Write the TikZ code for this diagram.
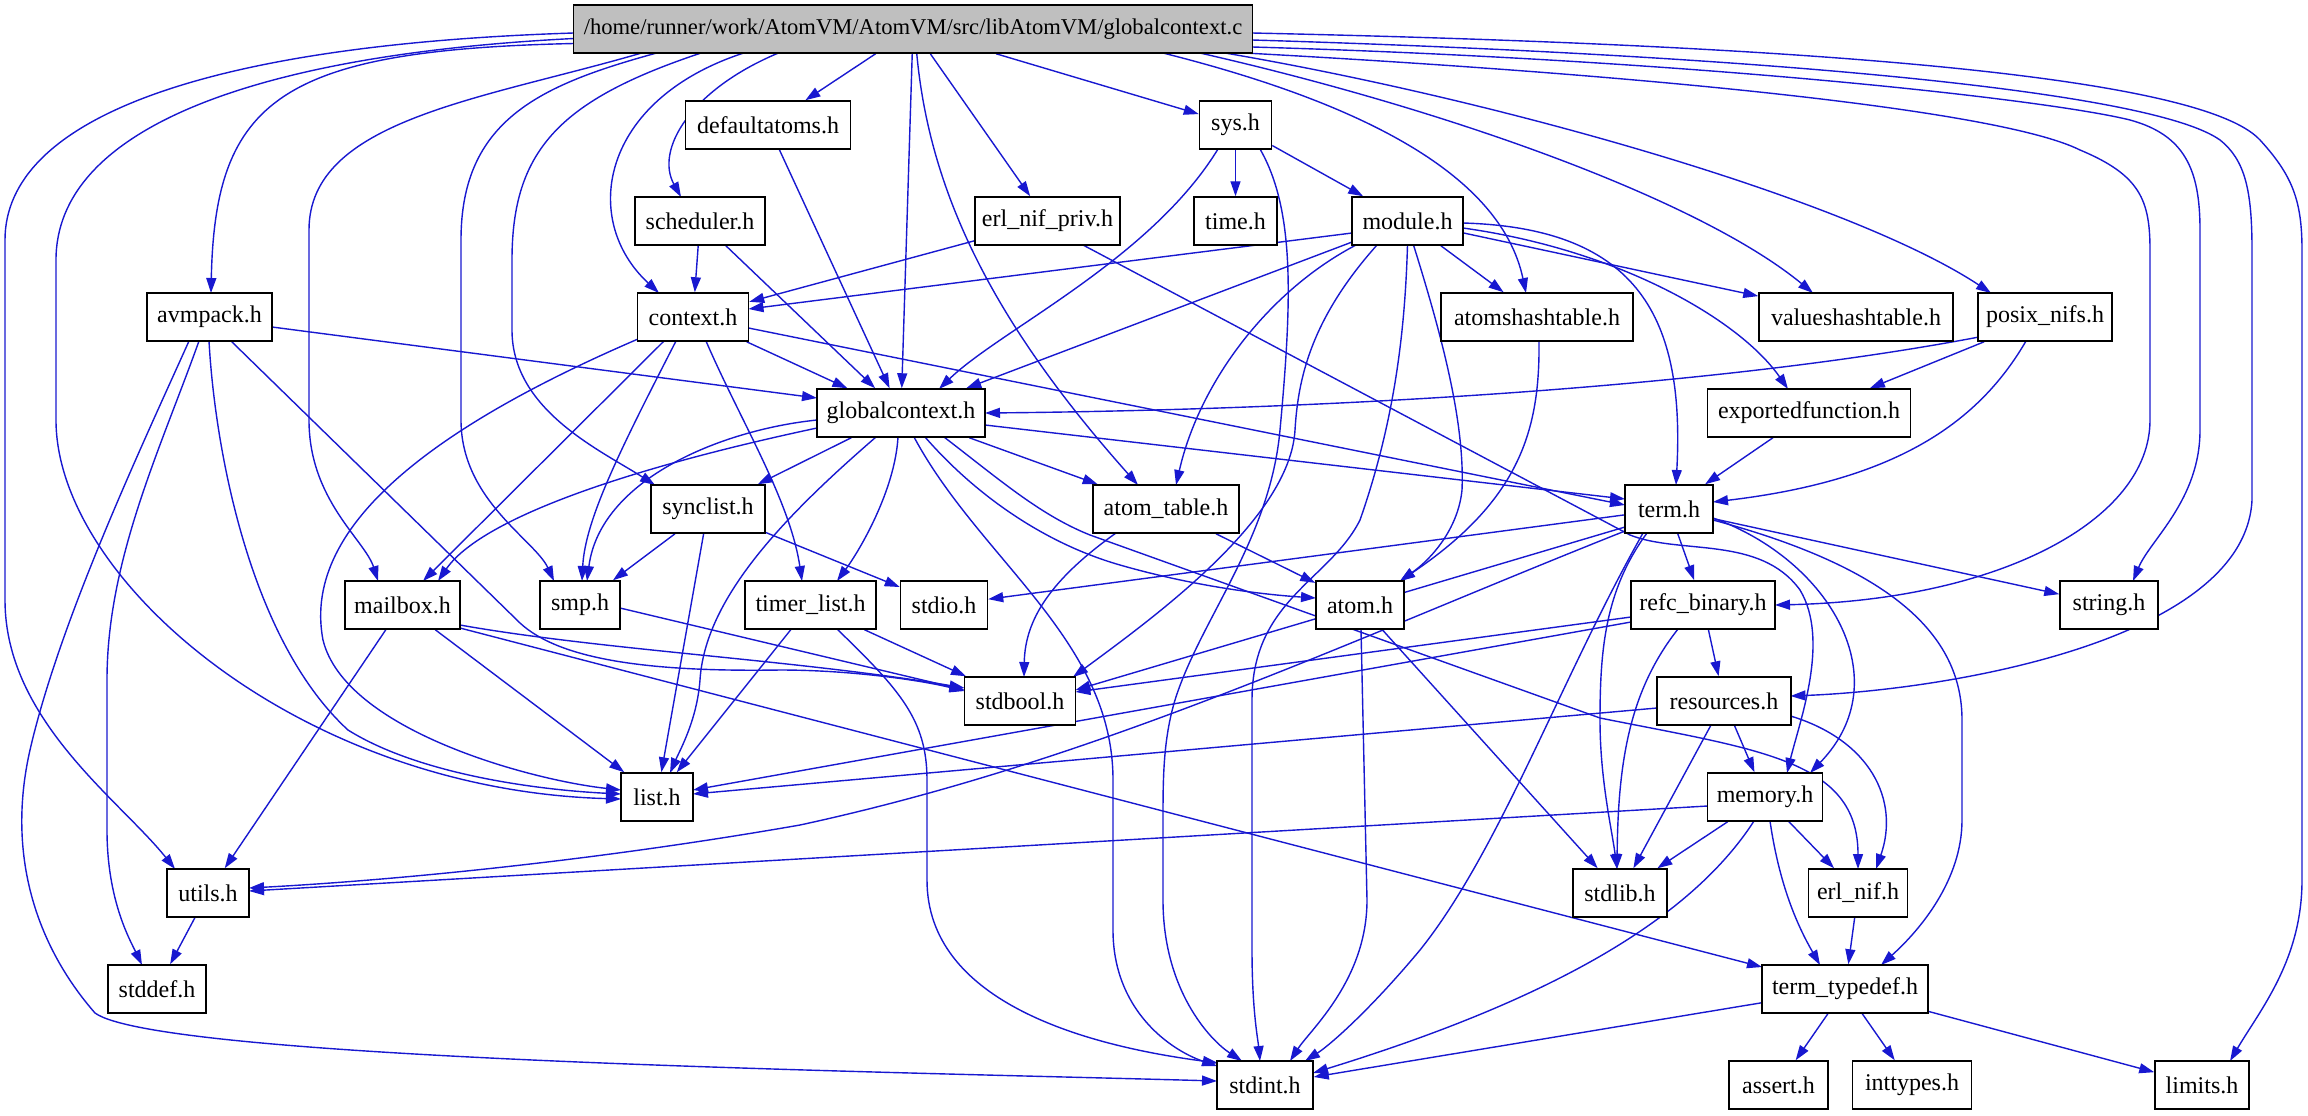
\documentclass[tikz,border=0pt]{standalone}
\usepackage{fontspec}
\setmainfont{Liberation Serif}
\usetikzlibrary{arrows.meta,calc}
\definecolor{edgeblue}{RGB}{24,24,208}
\definecolor{rootgray}{RGB}{191,191,191}
\pgfdeclarelayer{bg}
\pgfsetlayers{bg,main}
\begin{document}
\begin{tikzpicture}[x=0.5pt,y=-0.5pt,
  box/.style={draw=black,line width=0.75pt,fill=white,rectangle,minimum height=24pt,inner sep=0pt,font=\fontsize{12}{14}\selectfont},
  e/.style={draw=edgeblue,line width=0.7pt,-{Triangle[length=7.5pt,width=5pt]}},
]
\useasboundingbox (0,0) rectangle (2308,1115);
% nodes
\node[box,fill=rootgray,minimum width=0.5pt*679,font=\fontsize{11.3}{14}\selectfont] (root) at (913,29) {/home/runner/work/AtomVM/AtomVM/src/libAtomVM/globalcontext.c};
\node[box,minimum width=0.5pt*165] (defaultatoms) at (768,125) {defaultatoms.h};
\node[box,minimum width=0.5pt*72] (sys) at (1235.5,125) {sys.h};
\node[box,minimum width=0.5pt*130] (scheduler) at (700,221) {scheduler.h};
\node[box,minimum width=0.5pt*145] (erlnifpriv) at (1047.5,221) {erl\_nif\_priv.h};
\node[box,minimum width=0.5pt*83] (time) at (1235.5,221) {time.h};
\node[box,minimum width=0.5pt*111] (module) at (1407.5,221) {module.h};
\node[box,minimum width=0.5pt*125] (avmpack) at (209.5,317) {avmpack.h};
\node[box,minimum width=0.5pt*111] (context) at (693,317) {context.h};
\node[box,minimum width=0.5pt*192] (atomsht) at (1537,317) {atomshashtable.h};
\node[box,minimum width=0.5pt*194] (valuesht) at (1856,317) {valueshashtable.h};
\node[box,minimum width=0.5pt*134] (posixnifs) at (2045,317) {posix\_nifs.h};
\node[box,minimum width=0.5pt*168] (gctx) at (901,413) {globalcontext.h};
\node[box,minimum width=0.5pt*203] (expfun) at (1809,413) {exportedfunction.h};
\node[box,minimum width=0.5pt*114] (synclist) at (708,509) {synclist.h};
\node[box,minimum width=0.5pt*146] (atomtable) at (1166,509) {atom\_table.h};
\node[box,minimum width=0.5pt*88] (term) at (1669,509) {term.h};
\node[box,minimum width=0.5pt*115] (mailbox) at (402.5,605) {mailbox.h};
\node[box,minimum width=0.5pt*80] (smp) at (580,605) {smp.h};
\node[box,minimum width=0.5pt*131] (timerlist) at (810.5,605) {timer\_list.h};
\node[box,minimum width=0.5pt*87] (stdio) at (944,605) {stdio.h};
\node[box,minimum width=0.5pt*88] (atom) at (1360,605) {atom.h};
\node[box,minimum width=0.5pt*144] (refc) at (1703,605) {refc\_binary.h};
\node[box,minimum width=0.5pt*98] (string) at (2109,605) {string.h};
\node[box,minimum width=0.5pt*111] (stdbool) at (1020,701) {stdbool.h};
\node[box,minimum width=0.5pt*134] (resources) at (1724,701) {resources.h};
\node[box,minimum width=0.5pt*72] (list) at (657,797) {list.h};
\node[box,minimum width=0.5pt*115] (memory) at (1765,797) {memory.h};
\node[box,minimum width=0.5pt*82] (utils) at (208,893) {utils.h};
\node[box,minimum width=0.5pt*94] (stdlib) at (1620,893) {stdlib.h};
\node[box,minimum width=0.5pt*99] (erlnif) at (1858,893) {erl\_nif.h};
\node[box,minimum width=0.5pt*98] (stddef) at (157,989) {stddef.h};
\node[box,minimum width=0.5pt*166] (termtd) at (1845,989) {term\_typedef.h};
\node[box,minimum width=0.5pt*96] (stdint) at (1265,1085) {stdint.h};
\node[box,minimum width=0.5pt*99] (assert) at (1778.5,1085) {assert.h};
\node[box,minimum width=0.5pt*119] (inttypes) at (1912,1085) {inttypes.h};
\node[box,minimum width=0.5pt*94] (limits) at (2202,1085) {limits.h};
\begin{pgfonlayer}{bg}
% root
\draw[e] (root) -- (defaultatoms);
\draw[e] (root) -- (sys);
\draw[e] (root) -- (erlnifpriv);
\draw[e] (root) -- (gctx);
\draw[e] ($(root)+(-134.6,24)$) .. controls (690,90) and (655,150) .. ($(scheduler)+(-19,-24)$);
\draw[e] ($(root)+(-169.4,24)$) .. controls (600,100) and (580,220) .. ($(context)+(-34,-24)$);
\draw[e] ($(root)+(-212,24)$) .. controls (560,100) and (512,150) .. (512,260) -- (512,330) .. controls (512,410) and (600,450) .. ($(synclist)+(-53,-24)$);
\draw[e] ($(root)+(-256.4,24)$) .. controls (540,85) and (461,120) .. (461,240) -- (461,420) .. controls (461,500) and (535,540) .. ($(smp)+(-26,-24)$);
\draw[e] ($(root)+(-271.4,24)$) .. controls (480,100) and (309,120) .. (309,230) -- (309,420) .. controls (309,500) and (365,540) .. ($(mailbox)+(-24.5,-24)$);
\draw[e] ($(root)+(-339.5,14.5)$) .. controls (280,50) and (215,100) .. ($(avmpack)+(1.5,-24)$);
\draw[e] ($(root)+(-339.5,9.5)$) .. controls (250,55) and (56,130) .. (56,260) -- (56,420) .. controls (56,580) and (300,790) .. ($(list)+(-36,2)$);
\draw[e] ($(root)+(-339.5,4)$) .. controls (200,45) and (5,120) .. (5,240) -- (5,600) .. controls (5,720) and (120,800) .. ($(utils)+(-33,-24)$);
\draw[e] ($(root)+(3.7,24)$) .. controls (930,200) and (1000,330) .. ($(atomtable)+(-28,-24)$);
\draw[e] ($(root)+(250,24)$) .. controls (1350,100) and (1500,170) .. ($(atomsht)+(-11,-24)$);
\draw[e] ($(root)+(287,24)$) .. controls (1450,110) and (1700,200) .. ($(valuesht)+(-43,-24)$);
\draw[e] ($(root)+(312,24)$) .. controls (1500,100) and (1850,200) .. ($(posixnifs)+(-54,-24)$);
\draw[e] ($(root)+(332,24)$) .. controls (1650,75) and (2000,110) .. (2080,150) .. controls (2140,175) and (2150,200) .. (2150,250) -- (2150,420) .. controls (2150,520) and (2000,600) .. ($(refc)+(72,0)$);
\draw[e] ($(root)+(339.5,18)$) .. controls (1700,60) and (2050,100) .. (2130,120) .. controls (2185,135) and (2200,170) .. (2200,230) -- (2200,430) .. controls (2200,500) and (2150,540) .. ($(string)+(24,-24)$);
\draw[e] ($(root)+(339.5,11)$) .. controls (1750,55) and (2150,90) .. (2220,140) .. controls (2245,160) and (2252,190) .. (2252,250) -- (2252,500) .. controls (2245,640) and (1950,690) .. ($(resources)+(66.5,-5)$);
\draw[e] ($(root)+(339.5,4)$) .. controls (1800,45) and (2200,75) .. (2260,140) .. controls (2292,175) and (2302,200) .. (2302,250) -- (2302,880) .. controls (2302,960) and (2260,1010) .. ($(limits)+(28,-24)$);
% defaultatoms, sys
\draw[e] (defaultatoms) -- (gctx);
\draw[e] ($(sys)+(-17.5,24)$) .. controls (1150,260) and (1000,330) .. ($(gctx)+(38,-24)$);
\draw[e] (sys) -- (time);
\draw[e] (sys) -- (module);
\draw[e] ($(sys)+(24.5,24)$) .. controls (1295,210) and (1292,300) .. (1280,430) .. controls (1270,540) and (1200,620) .. (1175,700) .. controls (1163,740) and (1163,780) .. (1163,820) -- (1163,900) .. controls (1163,990) and (1210,1040) .. ($(stdint)+(-23,-24)$);
% scheduler, erl_nif_priv
\draw[e] (scheduler) -- (context);
\draw[e] (scheduler) -- (gctx);
\draw[e] (erlnifpriv) -- (context);
\draw[e] ($(erlnifpriv)+(35.5,24)$) -- (1630,535) .. controls (1680,555) and (1760,535) .. (1800,590) .. controls (1830,640) and (1800,720) .. ($(memory)+(22,-24)$);
% module
\draw[e] ($(module)+(-55.5,12)$) -- ($(context)+(55.5,-8)$);
\draw[e] (module) -- (gctx);
\draw[e] ($(module)+(-51.5,24)$) .. controls (1270,290) and (1200,380) .. ($(atomtable)+(10,-24)$);
\draw[e] ($(module)+(-30.5,24)$) .. controls (1310,320) and (1298,380) .. (1295,430) .. controls (1290,520) and (1150,620) .. ($(stdbool)+(53,-24)$);
\draw[e] ($(module)+(0,24)$) .. controls (1405,330) and (1395,420) .. (1360,520) .. controls (1330,580) and (1252,600) .. (1252,700) -- (1252,950) .. controls (1252,1010) and (1258,1040) .. ($(stdint)+(-5,-24)$);
\draw[e] ($(module)+(6,24)$) .. controls (1440,330) and (1465,420) .. (1462,490) .. controls (1458,530) and (1430,560) .. ($(atom)+(40,-24)$);
\draw[e] (module) -- (atomsht);
\draw[e] (module) -- (valuesht);
\draw[e] ($(module)+(55.5,7)$) .. controls (1620,250) and (1740,320) .. ($(expfun)+(-21,-24)$);
\draw[e] ($(module)+(55.5,2)$) .. controls (1640,228) and (1685,320) .. ($(term)+(7,-24)$);
% avmpack
\draw[e] ($(avmpack)+(62.5,10)$) -- ($(gctx)+(-84,-15)$);
\draw[e] ($(avmpack)+(-20.5,24)$) .. controls (140,450) and (60,620) .. (30,750) .. controls (5,860) and (40,950) .. (95,1013) .. controls (160,1060) and (900,1072) .. ($(stdint)+(-48,-4)$);
\draw[e] ($(avmpack)+(-10.5,24)$) .. controls (160,450) and (107,560) .. (107,680) -- (107,830) .. controls (107,900) and (130,940) .. ($(stddef)+(-15,-24)$);
\draw[e] ($(avmpack)+(-0.5,24)$) .. controls (215,450) and (250,640) .. (348,730) .. controls (420,775) and (540,790) .. ($(list)+(-36,-3)$);
\draw[e] ($(avmpack)+(21.5,24)$) -- (520,623) .. controls (560,660) and (650,672) .. (780,670) .. controls (850,670) and (920,680) .. ($(stdbool)+(-55.5,-10)$);
% context
\draw[e] (context) -- (gctx);
\draw[e] ($(context)+(55.5,11)$) -- ($(term)+(-44,-4)$);
\draw[e] ($(context)+(-55,22)$) .. controls (450,420) and (300,520) .. (323,640) .. controls (345,730) and (530,780) .. ($(list)+(-36,-7)$);
\draw[e] ($(context)+(-29,24)$) -- ($(mailbox)+(20.5,-24)$);
\draw[e] ($(context)+(-17,24)$) .. controls (620,450) and (585,520) .. ($(smp)+(2,-24)$);
\draw[e] ($(context)+(13,24)$) .. controls (740,420) and (790,500) .. ($(timerlist)+(-8.5,-24)$);
% globalcontext
\draw[e] (gctx) -- (synclist);
\draw[e] ($(gctx)+(-84,7)$) .. controls (720,430) and (600,480) .. ($(smp)+(7,-24)$);
\draw[e] ($(gctx)+(-84,15)$) .. controls (620,470) and (480,520) .. ($(mailbox)+(35.5,-24)$);
\draw[e] ($(gctx)+(-25,24)$) .. controls (780,520) and (705,600) .. (700,680) .. controls (697,720) and (680,750) .. ($(list)+(13,-24)$);
\draw[e] ($(gctx)+(-3,24)$) .. controls (895,490) and (860,550) .. ($(timerlist)+(26.5,-24)$);
\draw[e] ($(gctx)+(13,24)$) .. controls (980,560) and (1113,640) .. (1113,780) -- (1113,930) .. controls (1113,1010) and (1170,1050) .. ($(stdint)+(-48,-19)$);
\draw[e] ($(gctx)+(24,24)$) .. controls (980,500) and (1050,545) .. (1120,565) .. controls (1200,588) and (1270,595) .. ($(atom)+(-44,-7)$);
\draw[e] ($(gctx)+(43,24)$) .. controls (1000,480) and (1040,515) .. (1090,535) -- (1600,718) .. controls (1760,750) and (1858,760) .. ($(erlnif)+(0,-24)$);
\draw[e] (gctx) -- (atomtable);
\draw[e] ($(gctx)+(84,12)$) -- ($(term)+(-44,-10)$);
% synclist
\draw[e] (synclist) -- (smp);
\draw[e] (synclist) -- (list);
\draw[e] (synclist) -- (stdio);
% atom_table
\draw[e] (atomtable) -- (atom);
\draw[e] ($(atomtable)+(-50,24)$) .. controls (1050,580) and (1025,620) .. ($(stdbool)+(4,-24)$);
% term
\draw[e] (term) -- (refc);
\draw[e] (term) -- (string);
\draw[e] (term) -- (stdio);
\draw[e] ($(term)+(-44,18)$) -- ($(stdbool)+(55.5,-11)$);
\draw[e] ($(term)+(44,9)$) .. controls (1830,560) and (1900,680) .. ($(memory)+(45,-24)$);
\draw[e] ($(term)+(44,11)$) .. controls (1900,570) and (1962,640) .. (1962,720) -- (1962,820) .. controls (1962,880) and (1920,930) .. ($(termtd)+(36,-24)$);
\draw[e] ($(term)+(-22,24)$) .. controls (1605,590) and (1600,650) .. (1600,720) .. controls (1600,780) and (1612,830) .. ($(stdlib)+(-3,-24)$);
\draw[e] ($(term)+(-44,22)$) .. controls (1350,640) and (1100,760) .. (800,825) .. controls (600,860) and (400,880) .. ($(utils)+(41,-5)$);
\draw[e] ($(term)+(-26,24)$) .. controls (1560,680) and (1500,850) .. (1420,950) .. controls (1370,1010) and (1330,1045) .. ($(stdint)+(40,-24)$);
% refc_binary
\draw[e] (refc) -- (resources);
\draw[e] ($(refc)+(-72,12)$) -- ($(stdbool)+(55.5,-9)$);
\draw[e] ($(refc)+(-72,17)$) -- ($(list)+(36,-7)$);
\draw[e] ($(refc)+(-25,24)$) .. controls (1630,690) and (1618,760) .. ($(stdlib)+(-3,-24)$);
% resources
\draw[e] (resources) -- (memory);
\draw[e] (resources) -- (stdlib);
\draw[e] ($(resources)+(-67,7)$) -- ($(list)+(36,-3)$);
\draw[e] ($(resources)+(66.5,15)$) .. controls (1870,740) and (1900,800) .. ($(erlnif)+(18,-24)$);
% memory
\draw[e] (memory) -- (stdlib);
\draw[e] (memory) -- (erlnif);
\draw[e] ($(memory)+(5,24)$) .. controls (1780,890) and (1800,930) .. ($(termtd)+(-25,-24)$);
\draw[e] ($(memory)+(-11,24)$) .. controls (1690,920) and (1550,1000) .. ($(stdint)+(48,-12)$);
\draw[e] ($(memory)+(-57.5,9)$) -- ($(utils)+(41,-2)$);
% mailbox
\draw[e] (mailbox) -- (utils);
\draw[e] (mailbox) -- (list);
\draw[e] ($(mailbox)+(57.5,20)$) .. controls (600,650) and (800,660) .. ($(stdbool)+(-55.5,-13)$);
\draw[e] ($(mailbox)+(57.5,23)$) -- ($(termtd)+(-83,-22)$);
% smp
\draw[e] ($(smp)+(40,3)$) -- ($(stdbool)+(-55.5,-11)$);
% timer_list
\draw[e] (timerlist) -- (list);
\draw[e] (timerlist) -- (stdbool);
\draw[e] ($(timerlist)+(26.5,24)$) .. controls (900,690) and (927,720) .. (927,780) -- (927,880) .. controls (927,1000) and (1080,1045) .. ($(stdint)+(-47,-22)$);
% atom
\draw[e] ($(atom)+(1,24)$) -- (1367,900) .. controls (1367,980) and (1310,1030) .. ($(stdint)+(25,-24)$);
\draw[e] (atom) -- (stdlib);
\draw[e] ($(atomsht)+(2,24)$) .. controls (1540,430) and (1520,500) .. ($(atom)+(40,-24)$);
% posix_nifs
\draw[e] ($(posixnifs)+(-66,20)$) .. controls (1700,390) and (1300,410) .. ($(gctx)+(84,0)$);
\draw[e] (posixnifs) -- (expfun);
\draw[e] ($(posixnifs)+(-19,24)$) .. controls (1980,420) and (1900,480) .. ($(term)+(44,-7)$);
\draw[e] (expfun) -- (term);
% lower
\draw[e] (erlnif) -- (termtd);
\draw[e] (termtd) -- (stdint);
\draw[e] (termtd) -- (assert);
\draw[e] (termtd) -- (inttypes);
\draw[e] (termtd) -- (limits);
\draw[e] (utils) -- (stddef);
\end{pgfonlayer}
\end{tikzpicture}
\end{document}
